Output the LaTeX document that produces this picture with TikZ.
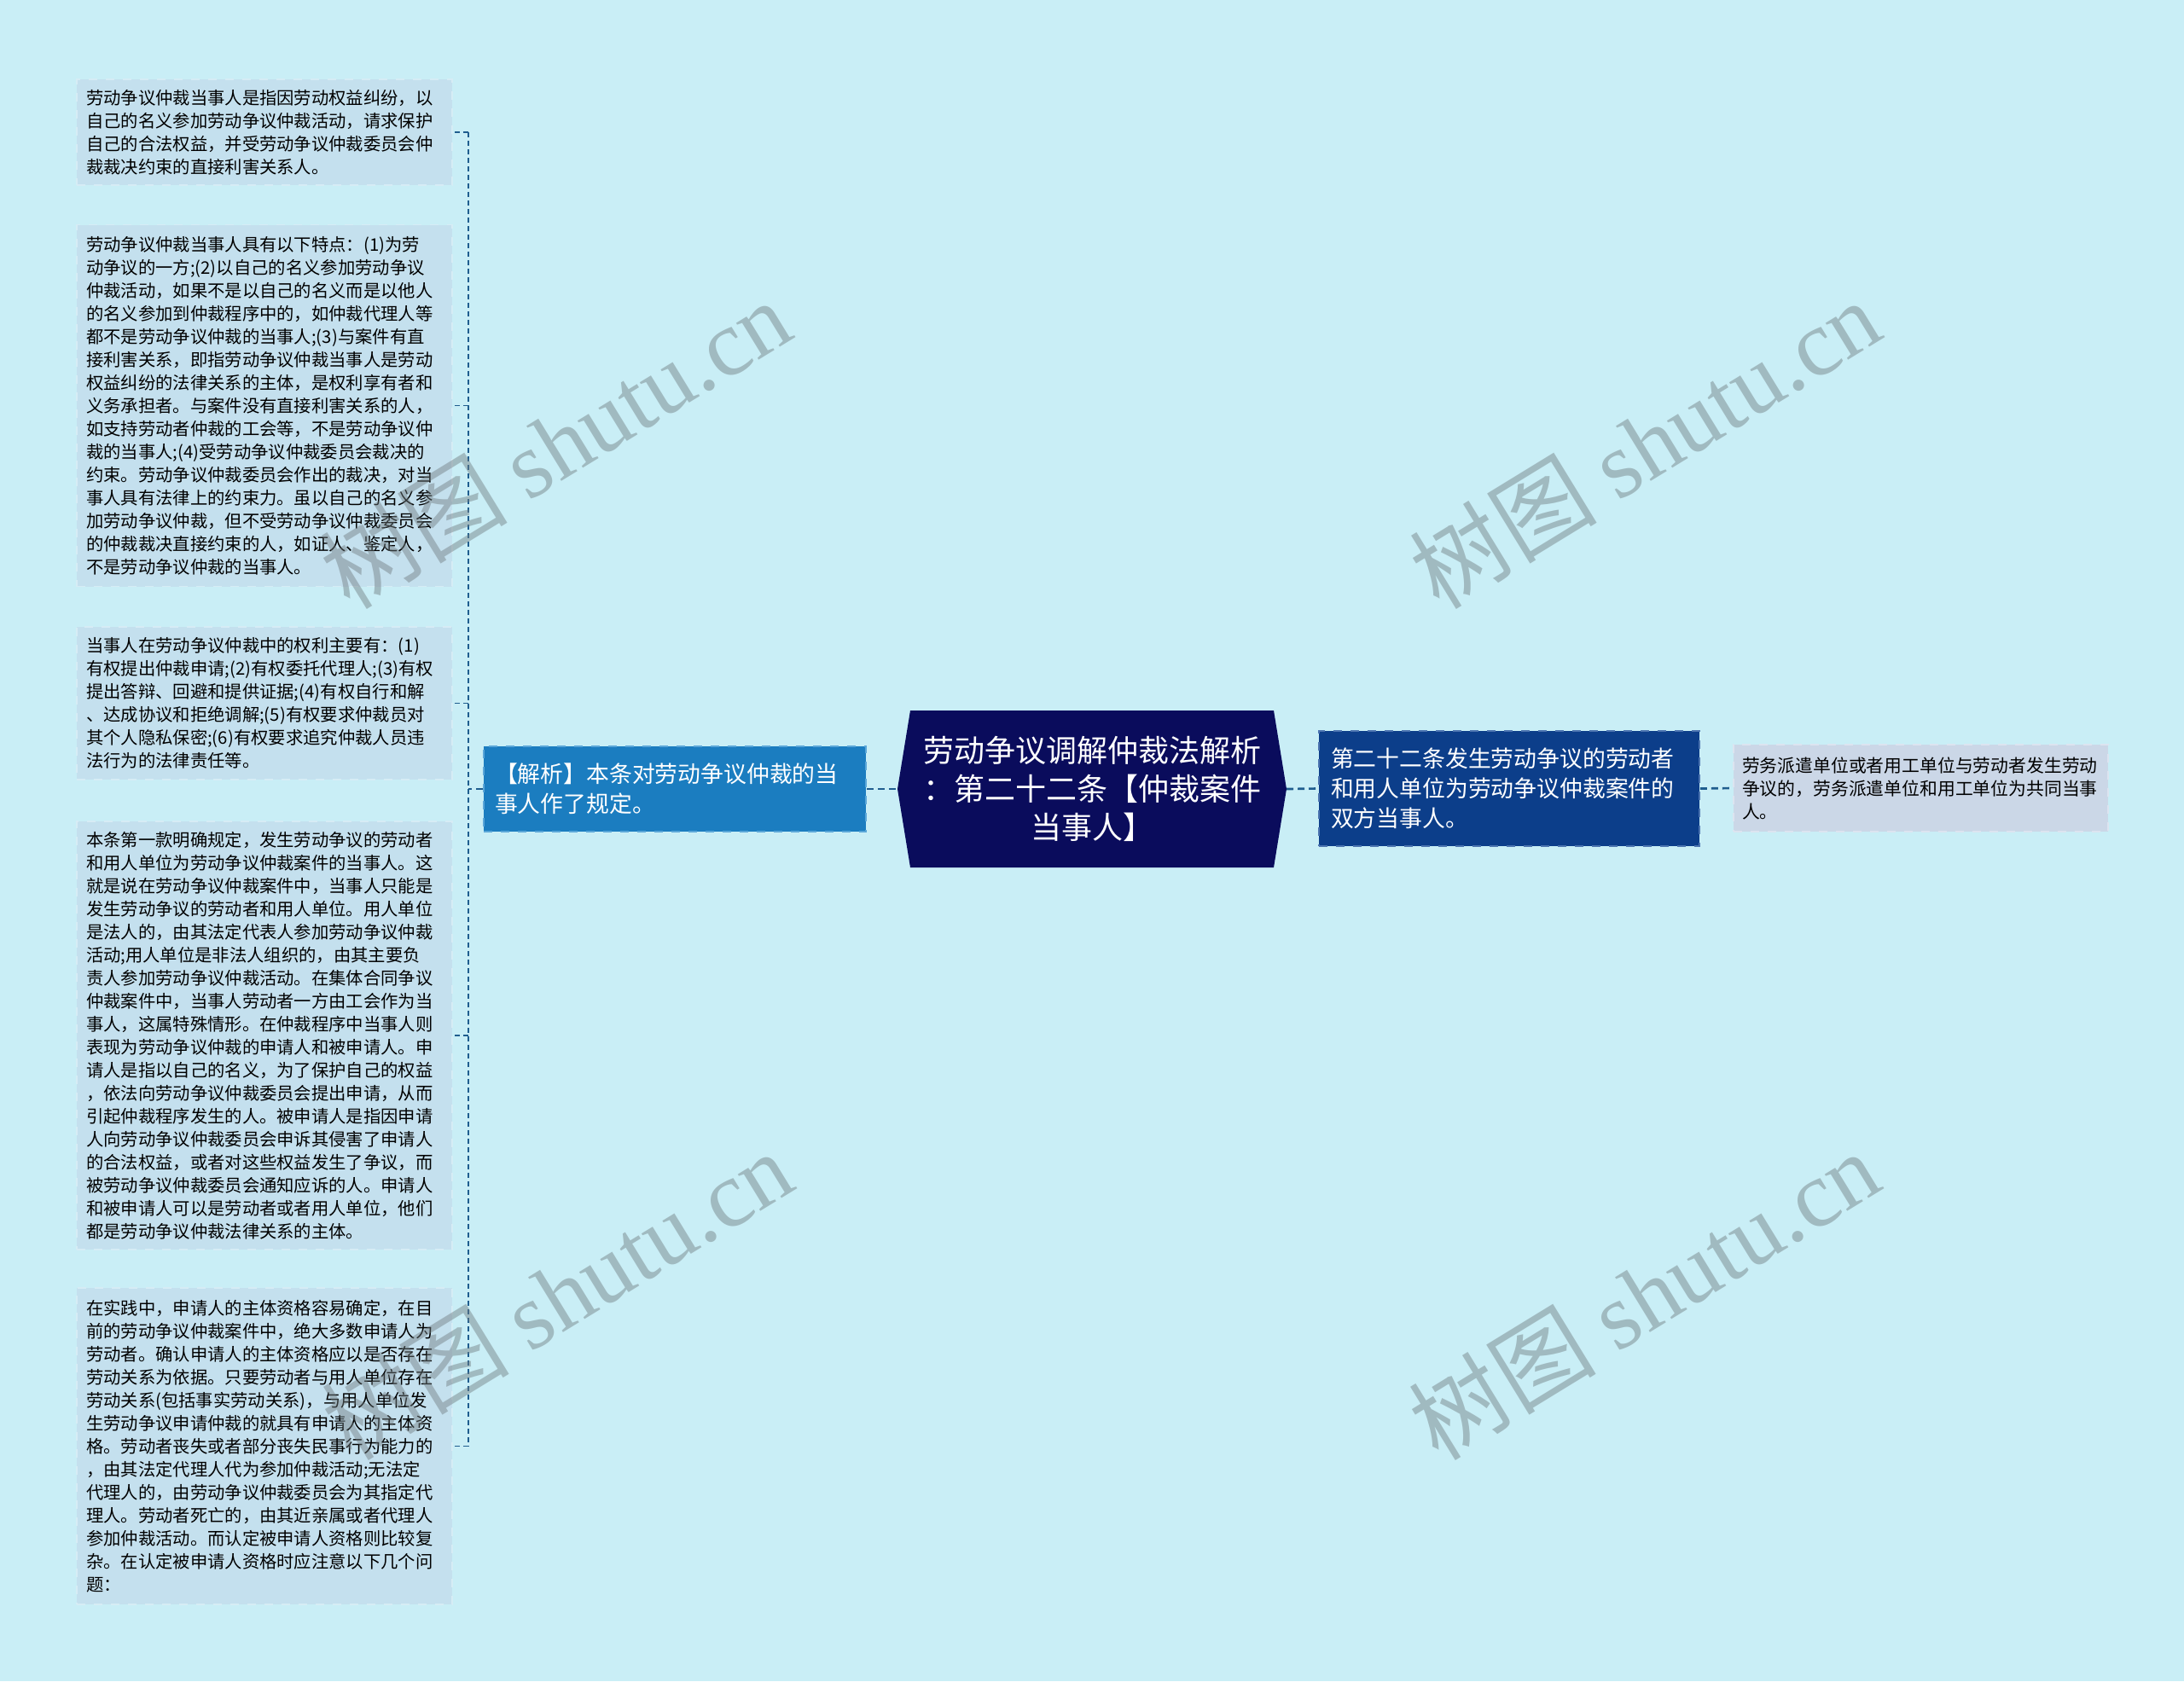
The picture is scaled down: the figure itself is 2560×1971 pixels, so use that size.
\documentclass[tikz,border=0pt]{standalone}
\usepackage{fontspec}
\newfontfamily\cjk{Noto Sans CJK SC}
\newfontfamily\wmlatin{Liberation Serif}

\definecolor{bgcyan}{HTML}{C9EEF6}
\definecolor{leaffill}{HTML}{C4E0EE}
\definecolor{leafline}{HTML}{D6ECF5}
\definecolor{jiexiblue}{HTML}{1B7DC0}
\definecolor{jiexiline}{HTML}{5AA6D8}
\definecolor{rootnavy}{HTML}{0A0C5C}
\definecolor{artblue}{HTML}{0C3E8A}
\definecolor{artline}{HTML}{4C74B0}
\definecolor{sidefill}{HTML}{CBD7E7}
\definecolor{sideline}{HTML}{DCE4F0}
\definecolor{linkblue}{HTML}{1F5D8E}
\definecolor{wmgray}{HTML}{707C80}

\begin{document}
\begin{tikzpicture}[x=0.3pt,y=-0.3pt,
  leaf/.style={draw=leafline,dashed,line width=0.4pt,fill=leaffill,
    inner xsep=0pt,inner ysep=0pt,text width=125.4pt,minimum width=132pt,
    align=left,font=\cjk\fontsize{6.1}{8.1}\selectfont},
  midbox/.style={draw=jiexiline,dashed,line width=0.5pt,fill=jiexiblue,text=white,
    inner xsep=0pt,inner ysep=0pt,text width=126.6pt,minimum width=134.4pt,
    minimum height=30pt,align=left,font=\cjk\fontsize{8.05}{10.5}\selectfont},
  roottext/.style={text=white,inner sep=0pt,align=center,
    font=\cjk\fontsize{10.8}{13.5}\selectfont},
  mainbox/.style={draw=artline,dashed,line width=0.5pt,fill=artblue,text=white,
    inner xsep=0pt,inner ysep=0pt,text width=125.4pt,minimum width=133.8pt,
    minimum height=40.5pt,align=left,font=\cjk\fontsize{8.05}{10.5}\selectfont},
  sideleaf/.style={draw=sideline,dashed,line width=0.4pt,fill=sidefill,
    inner xsep=0pt,inner ysep=0pt,text width=125.7pt,minimum width=131.7pt,
    minimum height=30.6pt,align=left,font=\cjk\fontsize{6.25}{8.1}\selectfont},
  link/.style={draw=linkblue,line width=0.8pt,dash pattern=on 2.4pt off 1.5pt},
  twig/.style={draw=linkblue,line width=0.55pt,dash pattern=on 1.8pt off 1.2pt},
  watermark/.style={rotate=31.5,text=wmgray,opacity=0.45,inner sep=0pt,
    font=\fontsize{33}{33}\selectfont}]

\fill[bgcyan] (0,0) rectangle (2560,1971);
\useasboundingbox (0,0) rectangle (2560,1971);

% left leaves
\node[leaf,minimum height=37.2pt] (def) at (310,155) {劳动争议仲裁当事人是指因劳动权益纠纷，以\\自己的名义参加劳动争议仲裁活动，请求保护\\自己的合法权益，并受劳动争议仲裁委员会仲\\裁裁决约束的直接利害关系人。};
\node[leaf,minimum height=127.2pt] (trait) at (310,475.5) {劳动争议仲裁当事人具有以下特点：(1)为劳\\动争议的一方;(2)以自己的名义参加劳动争议\\仲裁活动，如果不是以自己的名义而是以他人\\的名义参加到仲裁程序中的，如仲裁代理人等\\都不是劳动争议仲裁的当事人;(3)与案件有直\\接利害关系，即指劳动争议仲裁当事人是劳动\\权益纠纷的法律关系的主体，是权利享有者和\\义务承担者。与案件没有直接利害关系的人，\\如支持劳动者仲裁的工会等，不是劳动争议仲\\裁的当事人;(4)受劳动争议仲裁委员会裁决的\\约束。劳动争议仲裁委员会作出的裁决，对当\\事人具有法律上的约束力。虽以自己的名义参\\加劳动争议仲裁，但不受劳动争议仲裁委员会\\的仲裁裁决直接约束的人，如证人、鉴定人，\\不是劳动争议仲裁的当事人。};
\node[leaf,minimum height=53.7pt] (rights) at (310,824.5) {当事人在劳动争议仲裁中的权利主要有：(1)\\有权提出仲裁申请;(2)有权委托代理人;(3)有权\\提出答辩、回避和提供证据;(4)有权自行和解\\、达成协议和拒绝调解;(5)有权要求仲裁员对\\其个人隐私保密;(6)有权要求追究仲裁人员违\\法行为的法律责任等。};
\node[leaf,minimum height=150.6pt] (para) at (310,1214) {本条第一款明确规定，发生劳动争议的劳动者\\和用人单位为劳动争议仲裁案件的当事人。这\\就是说在劳动争议仲裁案件中，当事人只能是\\发生劳动争议的劳动者和用人单位。用人单位\\是法人的，由其法定代表人参加劳动争议仲裁\\活动;用人单位是非法人组织的，由其主要负\\责人参加劳动争议仲裁活动。在集体合同争议\\仲裁案件中，当事人劳动者一方由工会作为当\\事人，这属特殊情形。在仲裁程序中当事人则\\表现为劳动争议仲裁的申请人和被申请人。申\\请人是指以自己的名义，为了保护自己的权益\\，依法向劳动争议仲裁委员会提出申请，从而\\引起仲裁程序发生的人。被申请人是指因申请\\人向劳动争议仲裁委员会申诉其侵害了申请人\\的合法权益，或者对这些权益发生了争议，而\\被劳动争议仲裁委员会通知应诉的人。申请人\\和被申请人可以是劳动者或者用人单位，他们\\都是劳动争议仲裁法律关系的主体。};
\node[leaf,minimum height=111.3pt] (practice) at (310,1695.5) {在实践中，申请人的主体资格容易确定，在目\\前的劳动争议仲裁案件中，绝大多数申请人为\\劳动者。确认申请人的主体资格应以是否存在\\劳动关系为依据。只要劳动者与用人单位存在\\劳动关系(包括事实劳动关系)，与用人单位发\\生劳动争议申请仲裁的就具有申请人的主体资\\格。劳动者丧失或者部分丧失民事行为能力的\\，由其法定代理人代为参加仲裁活动;无法定\\代理人的，由劳动争议仲裁委员会为其指定代\\理人。劳动者死亡的，由其近亲属或者代理人\\参加仲裁活动。而认定被申请人资格则比较复\\杂。在认定被申请人资格时应注意以下几个问\\题：};

\node[midbox] (jiexi) at (791,925) {【解析】本条对劳动争议仲裁的当\\事人作了规定。};

% root, pointed at both ends
\coordinate (rootL) at (1052,925);
\coordinate (rootR) at (1508,925);
\fill[rootnavy] (1067,833) -- (rootL) -- (1067,1017) -- (1493,1017) -- (rootR) -- (1493,833) -- cycle;
\node[roottext] (root) at (1280,925) {劳动争议调解仲裁法解析\\：第二十二条【仲裁案件\\当事人】};

\node[mainbox] (art) at (1769,924.5) {第二十二条发生劳动争议的劳动者\\和用人单位为劳动争议仲裁案件的\\双方当事人。};
\node[sideleaf] (dispatch) at (2251.5,924) {劳务派遣单位或者用工单位与劳动者发生劳动\\争议的，劳务派遣单位和用工单位为共同当事\\人。};

% connectors
\draw[link] (jiexi.east) -- (rootL);
\draw[link] (rootR) -- (art.west);
\draw[link] (art.east) -- (dispatch.west);
\coordinate (trunk) at (549,925);
\draw[link] (jiexi.west) -- (trunk);
\draw[twig] (trunk |- def.east) -- (trunk |- practice.east);
\foreach \leafname in {def,trait,rights,para,practice}
  \draw[twig] (trunk |- \leafname.east) -- (\leafname.east);

% watermarks
\foreach \wx/\wy [count=\wi] in {651/520,1928/520,653/1518,1927/1518}
  \node[watermark] (wm\wi) at (\wx,\wy) {\cjk 树图 \wmlatin shutu.cn};
\end{tikzpicture}
\end{document}
